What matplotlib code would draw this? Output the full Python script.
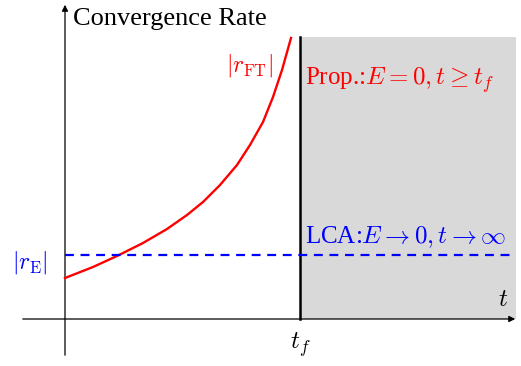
import numpy as np
import matplotlib
matplotlib.use("Agg")
import matplotlib.pyplot as plt

plt.rcParams["font.family"] = ["Liberation Serif", "DejaVu Serif"]
plt.rcParams["mathtext.fontset"] = "cm"

# values (1 unit = 100 px)
t_ft = [0.0, 0.28, 0.52, 0.78, 1.02, 1.22, 1.38, 1.55, 1.72, 1.85, 1.98, 2.08, 2.17, 2.26]
r_ft = [0.41, 0.52, 0.63, 0.76, 0.90, 1.04, 1.17, 1.34, 1.54, 1.74, 1.97, 2.22, 2.49, 2.81]
r_e = 0.64
t_f = 2.35
t_end = 4.51
y_top = 2.82

fig = plt.figure(figsize=(5.21, 3.66), dpi=100)
ax = fig.add_axes([0, 0, 1, 1])
ax.set_xlim(-0.65, 4.56)
ax.set_ylim(-0.47, 3.19)
ax.axis("off")

# shaded region after t_f
ax.fill_between([t_f, t_end], 0, y_top, color="#d9d9d9", lw=0, zorder=0)
ax.plot([t_f, t_f], [0, y_top], color="black", lw=1.8, zorder=3)

# axes with arrows
ax.annotate("", xy=(4.53, 0), xytext=(-0.45, 0),
            arrowprops=dict(arrowstyle="-|>", color="black", lw=0.9, mutation_scale=9))
ax.annotate("", xy=(0, 3.17), xytext=(0, -0.39),
            arrowprops=dict(arrowstyle="-|>", color="black", lw=0.9, mutation_scale=9))

# curves
ax.plot(t_ft, r_ft, color="red", lw=1.7, zorder=4, solid_joinstyle="round")
ax.plot([0, t_end], [r_e, r_e], color="blue", lw=1.6, ls=(0, (4, 3)), zorder=4)

# labels
ax.text(0.08, 3.0, "Convergence Rate", fontsize=19, va="center", ha="left")
ax.text(2.08, 2.54, r"$|r_{\mathrm{FT}}|$", color="red", fontsize=17, va="center", ha="right")
ax.text(2.40, 2.39, r"Prop.:$E=0, t\geq t_f$", color="red", fontsize=18, va="center", ha="left")
ax.text(2.40, 0.82, r"LCA:$E\rightarrow 0, t\rightarrow\infty$", color="blue", fontsize=18,
        va="center", ha="left")
ax.text(-0.35, 0.57, r"$|r_{\mathrm{E}}|$", color="blue", fontsize=17, va="center", ha="center")
ax.text(4.38, 0.19, r"$t$", fontsize=18, va="center", ha="center")
ax.text(t_f, -0.26, r"$t_f$", fontsize=18, va="center", ha="center")

fig.savefig("out.png", dpi=100)
